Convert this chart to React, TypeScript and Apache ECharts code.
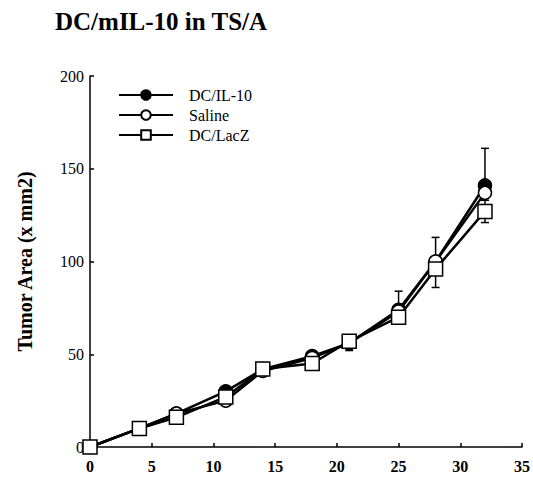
import React, { useEffect, useRef } from "react";
import * as echarts from "echarts";

const days = [0, 4, 7, 11, 14, 18, 21, 25, 28, 32];
const il10 = [0, 10, 18, 30, 42, 49, 56, 74, 100, 141];
const saline = [0, 10, 18, 25, 41, 48, 56, 73, 100, 137];
const lacZ = [0, 10, 16, 27, 42, 45, 57, 70, 96, 127];

// error bars: [day, low, high]
const il10Err = [[32, 141, 161]];
const salineErr = [[25, 73, 84], [28, 100, 113]];
const lacZErr = [[21, 52, 57], [28, 86, 96], [32, 121, 133]];

const xTicks = [0, 5, 10, 15, 20, 25, 30, 35];
const yTicks = [0, 50, 100, 150, 200];

const FONT = "'Liberation Serif', 'Times New Roman', serif";

export default function App() {
  const ref = useRef<HTMLDivElement>(null);
  useEffect(() => {
    if (!ref.current) return;
    const chart = echarts.init(ref.current, null, { renderer: "svg" });
    const pairs = (ys: number[]) => days.map((d, i) => [d, ys[i]]);
    const errSeries = (data: number[][]) => ({
      type: "custom",
      z: 1,
      silent: true,
      data,
      renderItem: (params: any, api: any) => {
        const x = api.value(0);
        const lo = api.coord([x, api.value(1)]);
        const hi = api.coord([x, api.value(2)]);
        const w = 4;
        const style = { stroke: "#000", lineWidth: 1.5 };
        return {
          type: "group",
          children: [
            { type: "line", shape: { x1: lo[0], y1: lo[1], x2: hi[0], y2: hi[1] }, style },
            { type: "line", shape: { x1: hi[0] - w, y1: hi[1], x2: hi[0] + w, y2: hi[1] }, style },
            { type: "line", shape: { x1: lo[0] - w, y1: lo[1], x2: lo[0] + w, y2: lo[1] }, style },
          ],
        };
      },
    });
    const lineSeries = (name: string, ys: number[], symbol: string, fill: string, size: number, z: number) => ({
      name,
      type: "line",
      data: pairs(ys),
      symbol,
      symbolSize: size,
      showAllSymbol: true,
      z,
      lineStyle: { color: "#000", width: 2.5 },
      itemStyle: { color: fill, borderColor: "#000", borderWidth: 1.5 },
    });
    chart.setOption({
      animation: false,
      backgroundColor: "#fff",
      title: {
        text: "DC/mIL-10 in TS/A",
        left: 55,
        top: 9,
        padding: 0,
        textStyle: { fontFamily: FONT, fontSize: 25, fontWeight: "bold", color: "#000" },
      },
      legend: {
        data: ["DC/IL-10", "Saline", "DC/LacZ"],
        orient: "vertical",
        left: 118,
        top: 87,
        itemWidth: 54,
        itemHeight: 12,
        itemGap: 4,
        padding: 0,
        textStyle: { fontFamily: FONT, fontSize: 16, color: "#000", padding: [0, 0, 0, 11], lineHeight: 16 },
      },
      grid: { left: 90, top: 76, right: 9, bottom: 37, containLabel: false },
      xAxis: {
        type: "value",
        min: xTicks[0],
        max: xTicks[xTicks.length - 1],
        interval: 5,
        splitLine: { show: false },
        axisLine: { lineStyle: { color: "#000", width: 1.5 } },
        axisTick: { inside: true, length: 4, lineStyle: { color: "#000", width: 1.5 } },
        axisLabel: { fontFamily: FONT, fontSize: 16, fontWeight: "bold", color: "#000", margin: 11 },
      },
      yAxis: {
        type: "value",
        min: yTicks[0],
        max: yTicks[yTicks.length - 1],
        interval: 50,
        name: "Tumor Area (x mm2)",
        nameLocation: "middle",
        nameRotate: 90,
        nameGap: 55,
        nameTextStyle: { fontFamily: FONT, fontSize: 20, fontWeight: "bold", color: "#000" },
        splitLine: { show: false },
        axisLine: { show: true, lineStyle: { color: "#000", width: 1.5 } },
        axisTick: { show: true, inside: true, length: 4, lineStyle: { color: "#000", width: 1.5 } },
        axisLabel: { fontFamily: FONT, fontSize: 16, color: "#000", margin: 6 },
      },
      series: [
        errSeries(il10Err),
        errSeries(salineErr),
        errSeries(lacZErr),
        lineSeries("DC/IL-10", il10, "circle", "#000", 13, 3),
        lineSeries("Saline", saline, "circle", "#fff", 13, 4),
        lineSeries("DC/LacZ", lacZ, "rect", "#fff", 14, 5),
      ],
    });
    return () => chart.dispose();
  }, []);
  return <div ref={ref} style={{ width: 533, height: 484, position: "absolute", left: 0, top: 0 }} />;
}
